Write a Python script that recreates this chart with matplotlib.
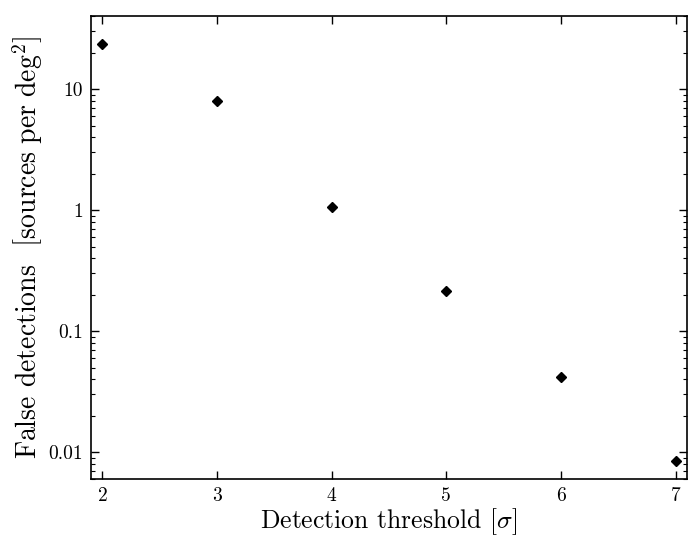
import matplotlib
matplotlib.use("Agg")
import matplotlib.pyplot as plt
from matplotlib.ticker import LogLocator, NullFormatter, NullLocator

plt.rcParams['font.family'] = 'serif'
plt.rcParams['font.serif'] = ['cmr10']
plt.rcParams['mathtext.fontset'] = 'cm'
plt.rcParams['axes.unicode_minus'] = False
plt.rcParams['axes.formatter.use_mathtext'] = True

thresholds = [2, 3, 4, 5, 6, 7]
false_rate = [23.6, 8.0, 1.065, 0.214, 0.0415, 0.0084]
xtick_vals = [2, 3, 4, 5, 6, 7]
ytick_vals = [0.01, 0.1, 1, 10]
ytick_labels = ["0.01", "0.1", "1", "10"]

fig = plt.figure(figsize=(6.92, 5.38), dpi=100)
ax = fig.add_axes([0.1315, 0.1097, 0.8613, 0.86])
ax.plot(thresholds, false_rate, linestyle='none', marker='D', markersize=5.2,
        color='black')
ax.set_yscale('log')
ax.set_xlim(1.9, 7.1)
ax.set_ylim(0.006, 40)
ax.set_xticks(xtick_vals)
ax.set_xticklabels([str(v) for v in xtick_vals])
ax.xaxis.set_minor_locator(NullLocator())
ax.set_yticks(ytick_vals)
ax.set_yticklabels(ytick_labels)
ax.yaxis.set_minor_locator(LogLocator(base=10, subs=range(2, 10)))
ax.yaxis.set_minor_formatter(NullFormatter())
ax.tick_params(which='both', direction='in', top=True, right=True, labelsize=14)
ax.tick_params(which='major', length=6, width=1, pad=6)
ax.tick_params(which='minor', length=3, width=0.8)
for s in ax.spines.values():
    s.set_linewidth(1.2)

ax.set_xlabel(r"Detection threshold $[\sigma]$", fontsize=18.5, labelpad=0.5)
ax.set_ylabel(r"False detections  $\left[\mathrm{sources\ per\ deg}^2\right]$",
              fontsize=20, labelpad=2)

fig.savefig("out.png", dpi=100)
